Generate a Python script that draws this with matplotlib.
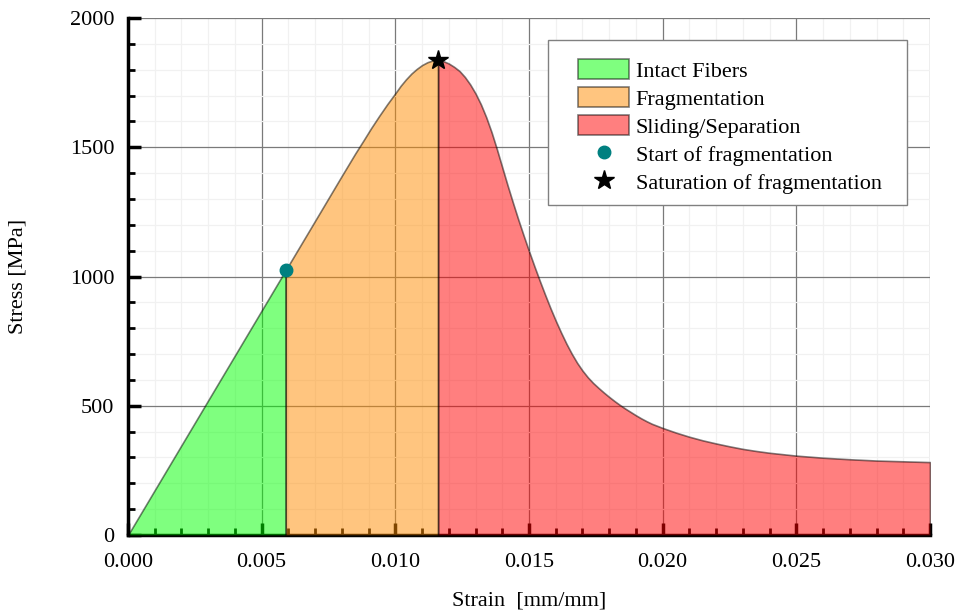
import numpy as np
import matplotlib
matplotlib.use('Agg')
import matplotlib.pyplot as plt
from matplotlib.ticker import MultipleLocator, FormatStrFormatter
from matplotlib.patches import Rectangle

plt.rcParams['font.family'] = ['Liberation Serif', 'DejaVu Serif']

# 曲线数据
strain = np.array([0.0, 0.0059, 0.0070, 0.0080, 0.0085, 0.0088, 0.0091, 0.0094,
                   0.0097, 0.0100, 0.0102, 0.0104, 0.0106, 0.0108, 0.0110, 0.0112,
                   0.0114, 0.0116, 0.0118, 0.0120, 0.0122, 0.0124, 0.0126, 0.0128,
                   0.0130, 0.0132, 0.0134, 0.0136, 0.0138, 0.0140, 0.0142, 0.0144,
                   0.0146, 0.0148, 0.0150, 0.0152, 0.0154, 0.0156, 0.0158, 0.0160,
                   0.0162, 0.0164, 0.0166, 0.0168, 0.0170, 0.0172, 0.0174, 0.0176,
                   0.0178, 0.0180, 0.0182, 0.0184, 0.0186, 0.0188, 0.0190, 0.0192,
                   0.0194, 0.0196, 0.0198, 0.0200, 0.0205, 0.0210, 0.0215, 0.0220,
                   0.0225, 0.0230, 0.0235, 0.0240, 0.0250, 0.0260, 0.0270, 0.0280,
                   0.0290, 0.0300])
stress = np.array([0, 1025, 1216, 1390, 1476, 1525, 1575, 1622,
                   1667, 1709, 1738, 1763, 1785, 1803, 1818, 1829,
                   1836, 1838, 1833, 1824, 1811, 1795, 1772, 1743,
                   1708, 1666, 1616, 1558, 1492, 1422, 1352, 1285,
                   1220, 1158, 1098, 1040, 984, 930, 878, 829,
                   783, 740, 701, 666, 636, 610, 588, 569,
                   551, 534, 518, 503, 489, 476, 463, 451,
                   440, 430, 422, 414, 396, 380, 366, 354,
                   343, 333, 325, 318, 307, 299, 293, 288,
                   285, 282])

start_frag = (0.0059, 1025)
sat_frag = (0.0116, 1838)

region_labels = ['Intact Fibers', 'Fragmentation', 'Sliding/Separation']
region_colors = ['lime', 'darkorange', 'red']
region_bounds = [(0.0, 0.0059), (0.0059, 0.0116), (0.0116, 0.0300)]

fig = plt.figure(figsize=(9.56, 6.15), dpi=100)
ax = fig.add_axes([0.1339, 0.1301, 0.8389, 0.8406])

handles = []
for lab, col, (a, b) in zip(region_labels, region_colors, region_bounds):
    m = (strain >= a - 1e-9) & (strain <= b + 1e-9)
    h = ax.fill_between(strain[m], 0, stress[m], facecolor=col, edgecolor='black',
                        linewidth=1.2, alpha=0.5, zorder=2, label=lab)
    handles.append(h)

h1, = ax.plot(*start_frag, 'o', color='teal', markersize=9, zorder=5,
              linestyle='none', label='Start of fragmentation')
h2, = ax.plot(*sat_frag, '*', color='black', markersize=15, zorder=5,
              linestyle='none', label='Saturation of fragmentation')
handles += [h1, h2]

ax.set_xlim(0, 0.03)
ax.set_ylim(0, 2000)
ax.xaxis.set_major_locator(MultipleLocator(0.005))
ax.xaxis.set_minor_locator(MultipleLocator(0.001))
ax.yaxis.set_major_locator(MultipleLocator(500))
ax.yaxis.set_minor_locator(MultipleLocator(100))
ax.xaxis.set_major_formatter(FormatStrFormatter('%.3f'))

ax.set_axisbelow(True)
ax.grid(which='major', color='#7a7a7a', linewidth=0.9)
ax.grid(which='minor', color='#f1f1f1', linewidth=0.9)

ax.tick_params(which='both', direction='in', top=False, right=False,
               labelsize=16, colors='black')
ax.tick_params(which='major', length=9, width=2.5)
ax.tick_params(which='minor', length=5, width=2)
ax.tick_params(axis='x', which='major', pad=13)
ax.tick_params(axis='y', which='major', pad=10)

for s in ['top', 'right']:
    ax.spines[s].set_visible(False)
ax.spines['left'].set_linewidth(2.5)
ax.spines['bottom'].set_linewidth(2.5)
ax.spines['bottom'].set_zorder(1)

ax.set_xlabel('Strain  [mm/mm]', fontsize=16, labelpad=14)
ax.set_ylabel('Stress [MPa]', fontsize=16, labelpad=30)

# 图例边框（手动画，左右留白比上下宽）
ax.add_patch(Rectangle((0.5237, 0.6383), 0.4476, 0.3191, transform=ax.transAxes,
                       facecolor='white', edgecolor='#808080', linewidth=1.0,
                       zorder=4.5))
leg = ax.legend(handles=handles, loc='upper left', fontsize=16,
                bbox_to_anchor=(0.5611, 0.921), borderaxespad=0, borderpad=0,
                frameon=False, handlelength=2.3, handleheight=1.05,
                labelspacing=0.23, handletextpad=0.3)
leg.set_zorder(6)

fig.savefig('out.png', dpi=100)
